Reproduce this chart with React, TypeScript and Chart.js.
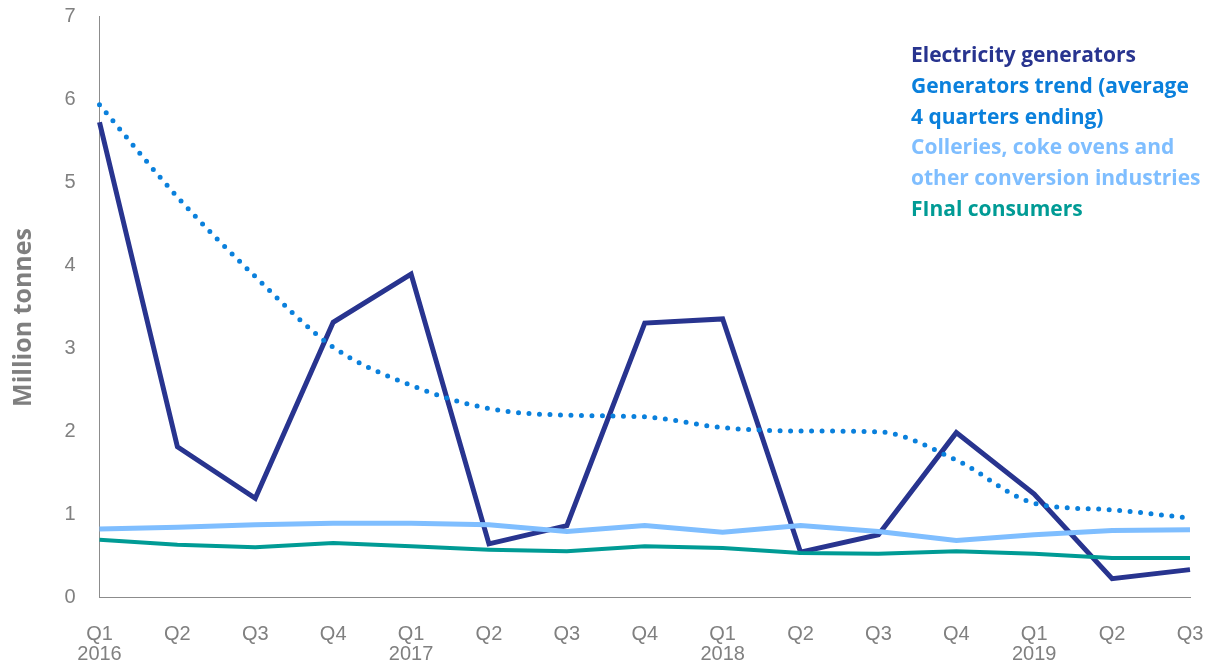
import React, { useEffect, useRef } from "react";
import { Chart, registerables } from "chart.js";

Chart.register(...registerables);

const quarters = ["Q1", "Q2", "Q3", "Q4", "Q1", "Q2", "Q3", "Q4", "Q1", "Q2", "Q3", "Q4", "Q1", "Q2", "Q3"];
const years = ["2016", "", "", "", "2017", "", "", "", "2018", "", "", "", "2019", "", ""];

const electricityGenerators = [5.72, 1.81, 1.19, 3.31, 3.89, 0.64, 0.86, 3.3, 3.35, 0.54, 0.75, 1.98, 1.24, 0.22, 0.33];
const generatorsTrend = [5.93, 4.82, 3.86, 3.01, 2.55, 2.27, 2.19, 2.17, 2.04, 2.0, 1.99, 1.65, 1.13, 1.05, 0.95];
const collieries = [0.82, 0.84, 0.87, 0.89, 0.89, 0.87, 0.79, 0.86, 0.78, 0.86, 0.79, 0.68, 0.75, 0.8, 0.81];
const finalConsumers = [0.69, 0.63, 0.6, 0.65, 0.61, 0.57, 0.55, 0.61, 0.59, 0.53, 0.52, 0.55, 0.52, 0.47, 0.47];

const yTicks = [0, 1, 2, 3, 4, 5, 6, 7];
const yTitle = "Million tonnes";

const seriesNames = [
  "Electricity generators",
  "Generators trend (average 4 quarters ending)",
  "Colleries, coke ovens and other conversion industries",
  "FInal consumers",
];

const COLORS = {
  gen: "#28348F",
  trend: "#0A80DC",
  coll: "#7FBEFF",
  fin: "#009B95",
};

const yTitlePlugin = {
  id: "yTitlePlugin",
  afterDraw(chart: any) {
    const { ctx, chartArea } = chart;
    ctx.save();
    ctx.translate(24, (chartArea.top + chartArea.bottom) / 2 + 11);
    ctx.rotate(-Math.PI / 2);
    ctx.font = "bold 25px 'Open Sans', sans-serif";
    ctx.fillStyle = "#7f7f7f";
    ctx.textAlign = "center";
    ctx.textBaseline = "middle";
    ctx.fillText(yTitle, 0, 0);
    ctx.restore();
  },
};

export default function App() {
  const canvasRef = useRef<HTMLCanvasElement | null>(null);

  useEffect(() => {
    const ctx = canvasRef.current;
    if (!ctx) return;
    const labels = quarters.map((q, i) => (years[i] ? [q, years[i]] : q));
    const chart = new Chart(ctx, {
      type: "line",
      plugins: [yTitlePlugin],
      data: {
        labels,
        datasets: [
          {
            label: seriesNames[3],
            data: finalConsumers,
            borderColor: COLORS.fin,
            borderWidth: 4,
            pointRadius: 0,
            tension: 0,
          },
          {
            label: seriesNames[2],
            data: collieries,
            borderColor: COLORS.coll,
            borderWidth: 5,
            pointRadius: 0,
            tension: 0,
          },
          {
            label: seriesNames[1],
            data: generatorsTrend,
            borderColor: COLORS.trend,
            borderWidth: 5,
            borderDash: [0, 10.5],
            borderCapStyle: "round",
            pointRadius: 0,
            cubicInterpolationMode: "monotone",
          },
          {
            label: seriesNames[0],
            data: electricityGenerators,
            borderColor: COLORS.gen,
            borderWidth: 5,
            pointRadius: 0,
            tension: 0,
          },
        ],
      },
      options: {
        responsive: false,
        animation: false,
        layout: { padding: { left: 0, right: 22, top: 16, bottom: 0 } },
        plugins: {
          legend: { display: false },
          tooltip: { enabled: false },
        },
        scales: {
          x: {
            type: "category",
            offset: false,
            grid: { display: false, drawTicks: false },
            border: { display: true, color: "#8c8c8c", width: 1 },
            ticks: {
              color: "#808080",
              font: { family: "'Liberation Sans', Arial, sans-serif", size: 20, lineHeight: 1.0 },
              padding: 27,
              maxRotation: 0,
              autoSkip: false,
            },
            afterFit: (scale: any) => {
              scale.height = 65;
              scale.paddingLeft = 0;
              scale.paddingRight = 0;
            },
          },
          y: {
            min: 0,
            max: 7,
            afterBuildTicks: (scale: any) => {
              scale.ticks = yTicks.map((v) => ({ value: v }));
            },
            grid: { display: false, drawTicks: false },
            border: { display: true, color: "#8c8c8c", width: 1 },
            ticks: {
              color: "#808080",
              font: { family: "'Liberation Sans', Arial, sans-serif", size: 20 },
              padding: 24,
            },
            title: { display: false },
            afterFit: (scale: any) => {
              scale.width = 99.5;
              scale.paddingTop = 0;
              scale.paddingBottom = 0;
            },
          },
        },
      },
    });
    return () => chart.destroy();
  }, []);

  const legendLine: React.CSSProperties = { whiteSpace: "nowrap" };

  return (
    <div style={{ position: "absolute", left: 0, top: 0, width: 1212, height: 662, background: "#fff" }}>
      <canvas ref={canvasRef} width={1212} height={662} style={{ display: "block" }} />
      <div
        style={{
          position: "absolute",
          left: 911,
          top: 39,
          fontFamily: "'Open Sans', sans-serif",
          fontWeight: 700,
          fontSize: 21,
          lineHeight: "30.8px",
        }}
      >
        <div style={{ ...legendLine, color: COLORS.gen }}>{seriesNames[0]}</div>
        <div style={{ ...legendLine, color: COLORS.trend }}>
          Generators trend (average
          <br />4 quarters ending)
        </div>
        <div style={{ ...legendLine, color: COLORS.coll }}>
          Colleries, coke ovens and
          <br />
          other conversion industries
        </div>
        <div style={{ ...legendLine, color: COLORS.fin }}>{seriesNames[3]}</div>
      </div>
    </div>
  );
}
